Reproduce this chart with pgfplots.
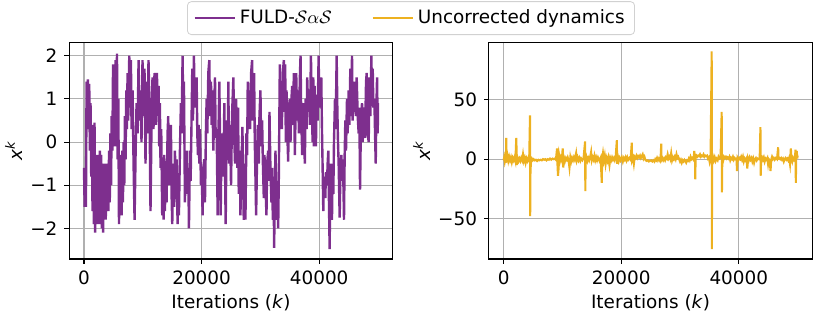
\documentclass[border=0pt]{standalone}
\usepackage{fontspec}
\setmainfont{DejaVu Sans}
\usepackage{pgfplots}
\pgfplotsset{compat=1.18}

\definecolor{fuldpurple}{RGB}{126,47,142}
\definecolor{uncorr}{RGB}{237,177,32}
\definecolor{gridgray}{RGB}{176,176,176}

\pgfplotsset{
  panel/.style={
    scale only axis,
    width=161.7pt, height=108.3pt,
    xmin=-2500, xmax=52500,
    xtick={0,20000,40000}, xticklabels={0,20000,40000},
    scaled x ticks=false,
    grid=major,
    grid style={draw=gridgray, line width=.55pt},
    axis line style={line width=.55pt},
    tick align=outside, major tick length=2.4pt,
    tick style={black, line width=.55pt},
    xtick pos=lower, ytick pos=left,
    tick label style={font=\fontsize{9.2}{11}\selectfont},
    label style={font=\fontsize{9.2}{11}\selectfont},
    xlabel={Iterations (\textit{k})},
    ylabel={\textit{x}\textsuperscript{\textit{k}}},
    xlabel shift=-2pt, ylabel shift=-3pt,
    legend image code/.code={\draw[##1] (0pt,0pt) -- (20pt,0pt);},
  },
}

\begin{document}
\begin{tikzpicture}
  \useasboundingbox (-34.65pt,-30.5pt) rectangle (376.35pt,129.5pt);

  % left: FULD-SaS trace
  \begin{axis}[
    panel,
    ymin=-2.71, ymax=2.31,
    ytick={-2,-1,0,1,2}, yticklabels={−2,−1,0,1,2},
    legend columns=2,
    legend style={at={(1.0566,1.112)}, anchor=center,
      draw=black!18, rounded corners=2pt, fill=white,
      font=\fontsize{9.2}{11}\selectfont,
      /tikz/every even column/.append style={column sep=18pt}},
  ]
    \addplot[color=fuldpurple, line width=1.2pt] coordinates {
      (0,-0.6) (110,-1.5) (220,-0.9) (330,-1.5) (440,1.4) (550,0.3) (670,1.45)
      (780,0.5) (890,1.35) (1000,-0.2) (1110,0.9) (1230,-0.8) (1340,0.4)
      (1450,-1.6) (1560,-0.5) (1680,-1.9) (1790,0.45) (1900,-2.1) (2010,-0.8)
      (2130,-1.9) (2240,-0.3) (2350,-1.5) (2470,-0.4) (2580,-1.9) (2690,-0.2)
      (2800,-1.2) (2920,-0.3) (3030,-2.0) (3140,-0.6) (3250,-2.1) (3370,-0.5)
      (3480,-1.5) (3590,-0.6) (3700,-1.8) (3820,-0.5) (3930,-1.6) (4040,-0.7)
      (4150,-1.6) (4260,-0.2) (4380,-1.4) (4490,0.2) (4600,-1.0) (4710,0.6)
      (4830,-0.2) (4940,1.8) (5050,0.3) (5160,1.6) (5280,-0.1) (5390,1.9)
      (5500,0.5) (5610,2.05) (5720,-0.4) (5840,1.0) (5950,-1.9) (6060,-0.6)
      (6170,-1.5) (6290,-0.3) (6400,-1.7) (6510,-0.2) (6620,-1.4) (6740,0.0)
      (6850,-1.0) (6960,0.6) (7070,-0.4) (7190,1.2) (7300,0.3) (7410,1.6)
      (7520,0.5) (7700,2.0) (7810,0.8) (7980,1.9) (8090,0.3) (8260,1.2)
      (8430,-0.5) (8600,-1.8) (8770,-0.3) (8940,0.9) (9110,0.2) (9280,1.9)
      (9440,0.5) (9610,1.2) (9780,0.0) (9950,1.9) (10120,0.6) (10290,1.7)
      (10460,-0.5) (10630,1.4) (10800,0.2) (10970,1.9) (11140,0.8) (11310,-1.6)
      (11480,0.4) (11650,1.5) (11820,0.3) (11990,1.6)
      (12224,0.4) (12395,1.6) (12565,0.8) (12680,1.3) (12792,-0.1) (12906,0.9)
      (13020,-0.6) (13133,0.3) (13304,-1.7) (13417,-0.5) (13531,-1.8)
      (13644,-0.3) (13758,-1.6) (13928,-0.6) (14042,-1.4) (14212,0.2)
      (14326,0.6) (14440,-1.0) (14610,-0.2) (14780,0.4) (14894,-1.2)
      (15008,-1.9) (15178,-0.5) (15348,-1.5) (15462,-0.2) (15632,-1.1)
      (15746,-0.4) (15916,-1.9) (16030,-0.8) (16144,-1.7) (16314,-0.2)
      (16484,0.9) (16598,0.2) (16768,2.0) (16882,0.6) (16996,1.4) (17166,-1.4)
      (17280,-0.5) (17450,-0.2) (17564,-1.2) (17734,-0.6) (17848,-2.0)
      (18018,-0.2) (18132,-0.9) (18302,0.6) (18416,1.7) (18529,0.5) (18700,2.0)
      (18813,0.8) (18984,1.0) (19154,1.5) (19268,0.2) (19381,-0.3) (19495,0.4)
      (19608,-0.5) (19722,0.3) (19892,-1.0) (20006,-0.6) (20176,-1.7)
      (20290,-0.6) (20460,-0.4) (20574,-1.4) (20744,0.3) (20858,1.0)
      (20972,0.2) (21142,1.6) (21312,1.9) (21426,0.6) (21596,1.4) (21710,0.4)
      (21824,1.2) (21994,-0.2) (22164,0.9) (22278,1.5) (22392,0.1) (22562,0.3)
      (22732,-1.7) (22846,0.0) (23016,1.4) (23130,0.2) (23244,-1.7)
      (23357,-0.3) (23528,0.2) (23698,-0.8) (23868,0.9) (23982,-0.6)
      (24096,-1.9) (24266,0.5) (24436,-0.2) (24550,1.4) (24664,-0.5)
      (24834,0.4) (25004,-1.0) (25174,0.6) (25402,1.5) (25572,0.0)
      (25686,-0.5) (25856,1.0) (26026,0.3)
      (26092,-0.6) (26205,0.8) (26319,-1.2) (26489,-0.2) (26603,-1.7)
      (26773,-0.6) (26944,0.35) (27057,-0.8) (27171,-1.8) (27341,-0.5)
      (27455,-1.8) (27625,0.2) (27739,-0.3) (27853,1.4) (27966,0.5)
      (28137,1.2) (28250,0.3) (28421,1.6) (28591,1.9) (28705,0.5) (28818,1.0)
      (28932,1.6) (29046,0.0) (29159,-0.8) (29273,-1.7) (29443,-0.3)
      (29557,0.4) (29727,-0.5) (29841,0.6) (30011,1.2) (30125,-0.1)
      (30295,0.5) (30409,-0.4) (30579,-1.3) (30693,-0.3) (30863,-1.0)
      (31033,-1.7) (31147,-0.5) (31317,-0.2) (31431,-0.9) (31545,0.7)
      (31715,-0.7) (31885,-1.4) (31999,-0.6) (32113,-1.8) (32226,-0.8)
      (32340,-2.45) (32454,-1.0) (32567,-0.2) (32738,-1.8) (32851,-0.9)
      (33022,-2.0) (33135,-0.8) (33305,1.8) (33419,0.5) (33533,1.3)
      (33646,0.3) (33817,1.6) (33987,1.9) (34101,0.7) (34214,1.8) (34328,0.0)
      (34442,1.2) (34555,0.3) (34725,-0.45) (34839,0.8) (35010,1.0)
      (35123,0.0) (35237,0.9) (35407,1.3) (35521,0.4) (35691,1.6)
      (35861,-0.3) (35975,0.6) (36089,1.6) (36259,0.5) (36429,1.2)
      (36543,0.2) (36713,1.5) (36827,2.0) (36941,0.6) (37111,-0.3)
      (37225,0.9) (37395,0.1) (37565,-0.5) (37679,1.0) (37849,0.3)
      (37963,1.5) (38133,0.7) (38247,1.2)
      (38425,0.4) (38595,2.0) (38709,1.1) (38879,0.0) (38993,1.5)
      (39106,-0.1) (39220,1.3) (39333,0.4) (39447,-0.1) (39561,1.1)
      (39731,0.5) (39901,2.0) (40015,0.9) (40129,1.4) (40242,0.8)
      (40356,1.5) (40470,0.3) (40583,-0.6) (40697,-1.6) (40810,-0.8)
      (40924,-1.1) (41038,-1.3) (41151,-0.7) (41321,-1.0) (41435,-0.5)
      (41549,-0.2) (41662,-1.4) (41776,-2.48) (41889,-0.8) (42003,-0.5)
      (42173,-1.8) (42287,-0.6) (42401,-1.2) (42514,0.0) (42685,1.0)
      (42798,0.3) (42969,2.0) (43082,0.8) (43196,0.0) (43310,-0.5)
      (43480,-1.75) (43594,-0.8) (43764,-0.3) (43878,-0.9) (44048,-0.4)
      (44218,-1.8) (44332,-0.3) (44445,0.5) (44559,-0.2) (44729,1.0)
      (44843,0.2) (45013,1.2) (45127,0.4) (45297,1.7) (45411,0.6) (45581,2.0)
      (45695,0.5) (45865,1.4) (45979,0.7) (46092,1.4) (46263,0.6) (46376,1.5)
      (46547,0.6) (46717,0.2) (46831,0.8) (46945,-1.1) (47115,0.6)
      (47285,0.9) (47399,0.0) (47513,0.5) (47683,0.8) (47797,0.1)
      (47967,1.4) (48081,1.6) (48251,0.2) (48421,0.0) (48535,1.5)
      (48705,0.6) (48875,2.0) (48988,0.9) (49102,1.7) (49216,0.8)
      (49386,1.0) (49500,0.2) (49613,-0.5) (49727,0.8) (49841,1.5)
      (49954,0.2) (50000,0.9)
    };
    \addlegendentry{FULD-$\mathcal{S}\alpha\mathcal{S}$}
    \addlegendimage{color=uncorr, line width=1.04pt}
    \addlegendentry{Uncorrected dynamics}
  \end{axis}

  % right: uncorrected dynamics
  \begin{axis}[
    panel,
    at={(209.8pt,0pt)},
    ymin=-84.3, ymax=98.6,
    ytick={-50,0,50}, yticklabels={−50,0,50},
  ]
    \addplot[color=uncorr, line width=1.04pt] coordinates {
      (0,-1) (100,1.5) (200,-2) (300,0.5) (400,-3) (450,18) (500,-1.5) (650,3)
      (800,-1.5) (950,2) (1100,-1) (1250,1.5) (1400,-2.5) (1550,1) (1700,-1)
      (1850,1.5) (2000,-1.5) (2160,18) (2250,-5) (2400,1) (2550,-1.5) (2700,0.5)
      (2850,-1.5) (3000,1) (3150,-1) (3300,4) (3450,-1.5) (3600,1) (3750,-3)
      (3900,0.5) (4050,-1.5) (4200,1) (4350,-1) (4490,37) (4520,-48) (4560,-13)
      (4650,-1) (4800,0.5) (4950,-1) (5100,0) (5300,-1) (5500,-0.5) (5700,-1.5)
      (5900,-0.5) (6100,-1) (6300,-0.5) (6500,-1) (6700,0) (6900,-0.5) (7100,0)
      (7300,-1) (7500,0) (7700,-0.5) (7900,0.5) (8100,-0.5) (8300,0.5) (8500,0)
      (8700,0.5) (8900,-0.5) (9090,9) (9150,-3) (9250,-14) (9350,-8) (9450,3)
      (9600,-1.5) (9750,1.5) (9900,-1) (10050,9) (10150,-7) (10300,1) (10450,-1.5)
      (10600,1) (10750,-0.5) (10900,1.5) (11050,-1) (11200,-7) (11350,1.5)
      (11500,-2) (11650,1) (11800,-1) (11950,1.5) (12100,-0.5) (12330,5)
      (12450,-1) (12600,1.5) (12750,-1) (12900,1) (13050,-1.5) (13200,0.5)
      (13400,-1) (13600,1) (13860,15) (13900,-27) (13950,-2) (14100,1.5)
      (14250,-1.5) (14400,1) (14550,-1) (14700,1.5) (14880,6) (15000,-1)
      (15150,1.5) (15300,-0.5) (15450,3) (15600,-1) (15750,1.5) (15900,-1)
      (16050,1.5) (16300,-1.5) (16500,1) (16700,-20) (16750,0) (16900,5)
      (17050,-1) (17200,3) (17350,-4) (17500,1) (17650,-1.5) (17800,1.5)
      (18000,-5) (18150,1) (18300,-1) (18450,1.5) (18600,-0.5) (18750,1)
      (18900,-1) (19050,1.5) (19260,16) (19300,-4) (19450,2) (19600,-1.5)
      (19750,1) (19900,-1) (20100,1.5) (20280,-2) (20450,1) (20600,-0.5)
      (20750,1.5) (20900,-1) (21050,1.5) (21200,-0.5) (21400,1) (21600,-0.5)
      (21800,14) (21850,-1) (22000,1) (22150,-4) (22300,2) (22450,1)
      (22600,3) (22750,1) (22900,2.5) (23050,1.5) (23200,3) (23350,1) (23500,2.5)
      (23650,4) (23800,0.5) (23950,2) (24100,-0.5) (24300,-1.5) (24500,-1)
      (24700,-2) (24900,-1.5) (25100,-1) (25300,-2) (25500,-1) (25650,-2)
      (25800,0) (25950,-1) (26100,1) (26250,-1) (26400,0.5) (26550,-1)
      (26700,1) (26810,13) (26850,-0.5) (27000,1) (27150,-1) (27300,0.5)
      (27450,-1) (27600,1.5) (27750,0.5) (27900,4) (28050,0.5) (28200,2)
      (28350,0) (28500,5) (28650,-1) (28800,1.5) (28950,0) (29100,2)
      (29250,0) (29400,4) (29550,1) (29700,2) (29850,0) (30000,-2)
      (30150,-0.5) (30300,-3) (30450,-1) (30600,-2) (30750,-0.5) (30900,-1.5)
      (31050,-3) (31200,-1) (31350,-1.5) (31500,0.5) (31650,-1) (31800,2)
      (31950,0) (32100,1) (32300,-0.5) (32430,7) (32560,-1) (32600,-17)
      (32650,1.5) (32800,3) (32950,2) (33100,3) (33250,2.5) (33400,4) (33550,2)
      (33700,3) (33850,2.5) (34000,4) (34150,2) (34300,3) (34450,2.5) (34600,3)
      (34750,0.5) (34900,1.5) (35050,-2.5) (35200,0.5) (35390,91) (35420,-76)
      (35460,-1) (35600,2) (35750,-1) (35900,1.5) (36050,-1.5) (36200,0.5)
      (36400,-1) (36550,2) (36700,0.5) (36900,1.5) (37090,40) (37130,-28)
      (37200,4) (37350,-1) (37500,2) (37650,1) (37800,2) (37950,0.5) (38100,1.5)
      (38250,0.5) (38400,2) (38550,-1) (38700,1) (38850,0) (39000,2)
      (39150,-0.5) (39300,1) (39450,0) (39600,0.5) (39700,-10) (39800,1)
      (39950,-0.5) (40100,1) (40250,0) (40400,2) (40550,-0.5) (40700,2)
      (40850,-2) (41000,0.5) (41150,-1) (41300,0.5) (41450,-8) (41550,1)
      (41700,-1) (41850,1.5) (42000,-0.5) (42150,1) (42300,-2) (42450,0.5)
      (42600,-3) (42750,0) (42900,1) (43050,-1) (43200,0.5) (43400,0)
      (43550,1) (43680,27) (43720,-14) (43800,0) (43950,1.5) (44100,-0.5)
      (44250,1.5) (44400,-2) (44550,0.5) (44700,-0.5) (44850,1) (44980,-4)
      (45100,0) (45250,-1) (45400,-10) (45500,-0.5) (45650,2) (45800,0)
      (45950,1) (46100,-0.5) (46300,1) (46500,0) (46690,10) (46750,0.5)
      (46900,1) (47050,0) (47200,1) (47350,-0.5) (47500,0.5) (47650,-2)
      (47800,0) (47950,1) (48100,-0.5) (48250,0.5) (48400,-1) (48550,1)
      (48700,-4) (48850,9) (48950,1) (49100,-2) (49250,1) (49400,-0.5)
      (49550,1) (49640,8) (49700,-20) (49760,2) (49850,7) (49950,0.5)
      (50000,3)
    };
  \end{axis}
\end{tikzpicture}
\end{document}
